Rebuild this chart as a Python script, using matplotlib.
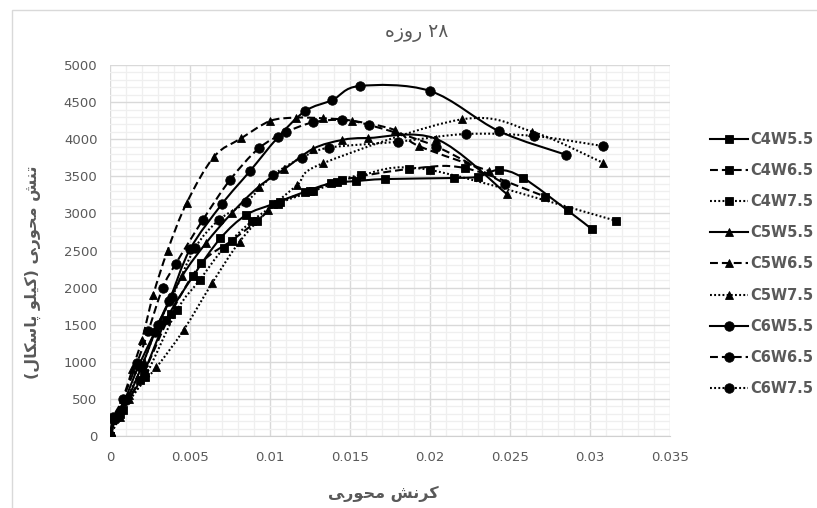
import numpy as np
import matplotlib
matplotlib.use("Agg")
import matplotlib.pyplot as plt
from matplotlib.path import Path
from matplotlib.patches import PathPatch, Rectangle
from matplotlib.lines import Line2D

# ---------------- data ----------------
series_names = ["C4W5.5", "C4W6.5", "C4W7.5", "C5W5.5", "C5W6.5", "C5W7.5",
                "C6W5.5", "C6W6.5", "C6W7.5"]

x_C4W55 = [0, 0.0004, 0.0019, 0.0035, 0.0052, 0.0069, 0.0085, 0.0102, 0.0122, 0.0138,
           0.0154, 0.0172, 0.0215, 0.0230, 0.0243, 0.0258, 0.0286, 0.0301]
y_C4W55 = [0, 250, 755, 1563, 2156, 2664, 2978, 3127, 3293, 3405,
           3436, 3463, 3477, 3495, 3585, 3481, 3040, 2790]

x_C4W65 = [0, 0.0006, 0.0021, 0.0038, 0.0057, 0.0076, 0.0092, 0.0106, 0.0125, 0.0145,
           0.0187, 0.0222, 0.0272]
y_C4W65 = [0, 300, 850, 1650, 2327, 2632, 2900, 3150, 3300, 3450,
           3598, 3610, 3226]

x_C4W75 = [0, 0.0008, 0.0022, 0.0042, 0.0056, 0.0071, 0.0089, 0.0105, 0.0127, 0.0142,
           0.0157, 0.0200, 0.0316]
y_C4W75 = [0, 350, 800, 1700, 2100, 2529, 2900, 3130, 3300, 3420,
           3517, 3585, 2902]

x_C5W55 = [0, 0.0004, 0.0012, 0.0021, 0.0031, 0.0045, 0.0060, 0.0076, 0.0093, 0.0109,
           0.0127, 0.0145, 0.0161, 0.0204, 0.0248]
y_C5W55 = [0, 250, 550, 1000, 1550, 2150, 2600, 3001, 3360, 3598,
           3872, 3989, 4016, 4003, 3261]

x_C5W65 = [0, 0.0003, 0.0008, 0.0014, 0.0020, 0.0027, 0.0036, 0.0048, 0.0065, 0.0082,
           0.0100, 0.0116, 0.0133, 0.0151, 0.0178, 0.0193, 0.0237]
y_C5W65 = [0, 250, 500, 900, 1300, 1900, 2500, 3144, 3764, 4012,
           4245, 4290, 4282, 4250, 4124, 3908, 3571]

x_C5W75 = [0, 0.0006, 0.0012, 0.0029, 0.0046, 0.0064, 0.0081, 0.0099, 0.0117, 0.0133,
           0.0220, 0.0264, 0.0308]
y_C5W75 = [0, 250, 500, 926, 1428, 2066, 2619, 3046, 3383, 3675,
           4268, 4101, 3683]

x_C6W55 = [0, 0.0002, 0.0009, 0.0018, 0.0028, 0.0037, 0.0050, 0.0070, 0.00875, 0.0105,
           0.0122, 0.0139, 0.0156, 0.0200, 0.0243, 0.0285]
y_C6W55 = [0, 230, 480, 950, 1400, 1823, 2516, 3127, 3571, 4026,
           4380, 4528, 4717, 4650, 4110, 3790]

x_C6W65 = [0, 0.0002, 0.0008, 0.0017, 0.0024, 0.0033, 0.0041, 0.0058, 0.0075, 0.0093,
           0.0110, 0.0127, 0.0145, 0.0162, 0.0204, 0.0247]
y_C6W65 = [0, 250, 500, 990, 1420, 2000, 2318, 2911, 3450, 3877,
           4093, 4228, 4259, 4191, 3900, 3396]

x_C6W75 = [0, 0.0003, 0.0010, 0.0020, 0.0030, 0.0039, 0.0053, 0.0068, 0.0085, 0.0102,
           0.0120, 0.0137, 0.0180, 0.02225, 0.0265, 0.0308]
y_C6W75 = [0, 230, 480, 950, 1500, 1880, 2530, 2911, 3150, 3517,
           3751, 3886, 3966, 4070, 4043, 3908]

xs_all = [x_C4W55, x_C4W65, x_C4W75, x_C5W55, x_C5W65, x_C5W75, x_C6W55, x_C6W65, x_C6W75]
ys_all = [y_C4W55, y_C4W65, y_C4W75, y_C5W55, y_C5W65, y_C5W75, y_C6W55, y_C6W65, y_C6W75]

x_ticks = [0, 0.005, 0.01, 0.015, 0.02, 0.025, 0.03, 0.035]
x_tick_labels = ["0", "0.005", "0.01", "0.015", "0.02", "0.025", "0.03", "0.035"]
y_ticks = [0, 500, 1000, 1500, 2000, 2500, 3000, 3500, 4000, 4500, 5000]
y_tick_labels = [str(v) for v in y_ticks]

# Persian text (visual order, presentation forms since matplotlib has no shaping)
title_text = "\u0647\u0632\u0648\u0631 \u06F2\u06F8"          # ۲۸ روزه
xlabel_text = ("\uFBFD\uFEAD\uFEEE\uFEA4\uFEE3" + " " +
               "\uFEB6\uFEE7\uFEAE\uFB90")                      # کرنش محوری
ylabel_text = ("(" + "\uFEDD\uFE8E\uFB91\uFEB3\uFE8E\uFB58" + " " +
               "\uFEEE\uFEE0\uFBFF\uFB90" + ")" + " " +
               "\uFBFD\uFEAD\uFEEE\uFEA4\uFEE3" + " " +
               "\uFEB6\uFEE8\uFE97")                            # تنش محوری (کیلو پاسکال)

# ---------------- styles ----------------
LW = 1.5
styles = {
    "solid": "-",
    "dash": (0, (3.8, 1.9)),
    "dot": (0, (0.9, 1.1)),
}
line_kinds = ["solid", "dash", "dot"] * 3
markers = ["s"] * 3 + ["^"] * 3 + ["o"] * 3
msizes = {"s": 5.2, "^": 5.6, "o": 6.8}
GRAY = "#595959"

plt.rcParams["font.family"] = ["DejaVu Sans"]

fig = plt.figure(figsize=(8.17, 5.08), dpi=100)
ax = fig.add_axes([110 / 817, (508 - 436) / 508, 560 / 817, 371 / 508])


def smooth_path(xs, ys):
    pts = np.column_stack([xs, ys]).astype(float)
    n = len(pts)
    verts = [pts[0]]
    codes = [Path.MOVETO]
    for i in range(n - 1):
        p0 = pts[i - 1] if i > 0 else pts[i]
        p1 = pts[i]
        p2 = pts[i + 1]
        p3 = pts[i + 2] if i + 2 < n else pts[i + 1]
        c1 = p1 + (p2 - p0) / 6.0
        c2 = p2 - (p3 - p1) / 6.0
        verts += [c1, c2, p2]
        codes += [Path.CURVE4] * 3
    return Path(verts, codes)


handles = []
for name, xs, ys, kind, mk in zip(series_names, xs_all, ys_all, line_kinds, markers):
    patch = PathPatch(smooth_path(xs, ys), facecolor="none", edgecolor="black",
                      lw=LW, linestyle=styles[kind], zorder=3)
    patch.set_capstyle("butt")
    ax.add_patch(patch)
    ax.plot(xs, ys, linestyle="none", marker=mk, ms=msizes[mk], color="black",
            markeredgewidth=0.6, zorder=4)
    handles.append(Line2D([], [], color="black", lw=LW, linestyle=styles[kind],
                          marker=mk, ms=msizes[mk], markeredgewidth=0.6))

ax.set_xlim(0, 0.035)
ax.set_ylim(0, 5000)
ax.set_xticks(x_ticks)
ax.set_xticklabels(x_tick_labels)
ax.set_yticks(y_ticks)
ax.set_yticklabels(y_tick_labels)
ax.set_xticks(np.arange(0, 0.0351, 0.001), minor=True)
ax.set_yticks(np.arange(0, 5001, 100), minor=True)
ax.grid(which="minor", color="#efefef", lw=0.9, zorder=0)
ax.grid(which="major", color="#d9d9d9", lw=1.0, zorder=1)
ax.set_axisbelow(True)
ax.tick_params(which="both", length=0)
ax.tick_params(axis="x", pad=11, labelsize=9.5, labelcolor=GRAY)
ax.tick_params(axis="y", pad=9, labelsize=9.5, labelcolor=GRAY)
for s in ["top", "right", "left"]:
    ax.spines[s].set_visible(False)
ax.spines["bottom"].set_color("#d0d0d0")

fig.text(0.51, (508 - 33) / 508, title_text, ha="center", va="center",
         fontsize=13.5, color=GRAY)
fig.text(383 / 817, (508 - 494) / 508, xlabel_text, ha="center", va="center",
         fontsize=11.5, color=GRAY, fontweight="bold")
fig.text(33 / 817, (508 - 272) / 508, ylabel_text, ha="center", va="center",
         rotation=90, fontsize=11.5, color=GRAY, fontweight="bold")

leg = fig.legend(handles, series_names, loc="center left",
                 bbox_to_anchor=(710 / 817, (508 - 264) / 508),
                 frameon=False, borderpad=0, borderaxespad=0,
                 handlelength=2.6, handletextpad=0.15, labelspacing=1.11,
                 prop={"size": 10.5, "weight": "bold"})
for t in leg.get_texts():
    t.set_color(GRAY)

# chart-area border
fig.patches.append(Rectangle((12 / 817, -0.2), 1.5, (508 - 10) / 508 + 0.2,
                             transform=fig.transFigure, fill=False,
                             edgecolor="#d9d9d9", lw=1.0))

fig.savefig("out.png", dpi=100, facecolor="white")
